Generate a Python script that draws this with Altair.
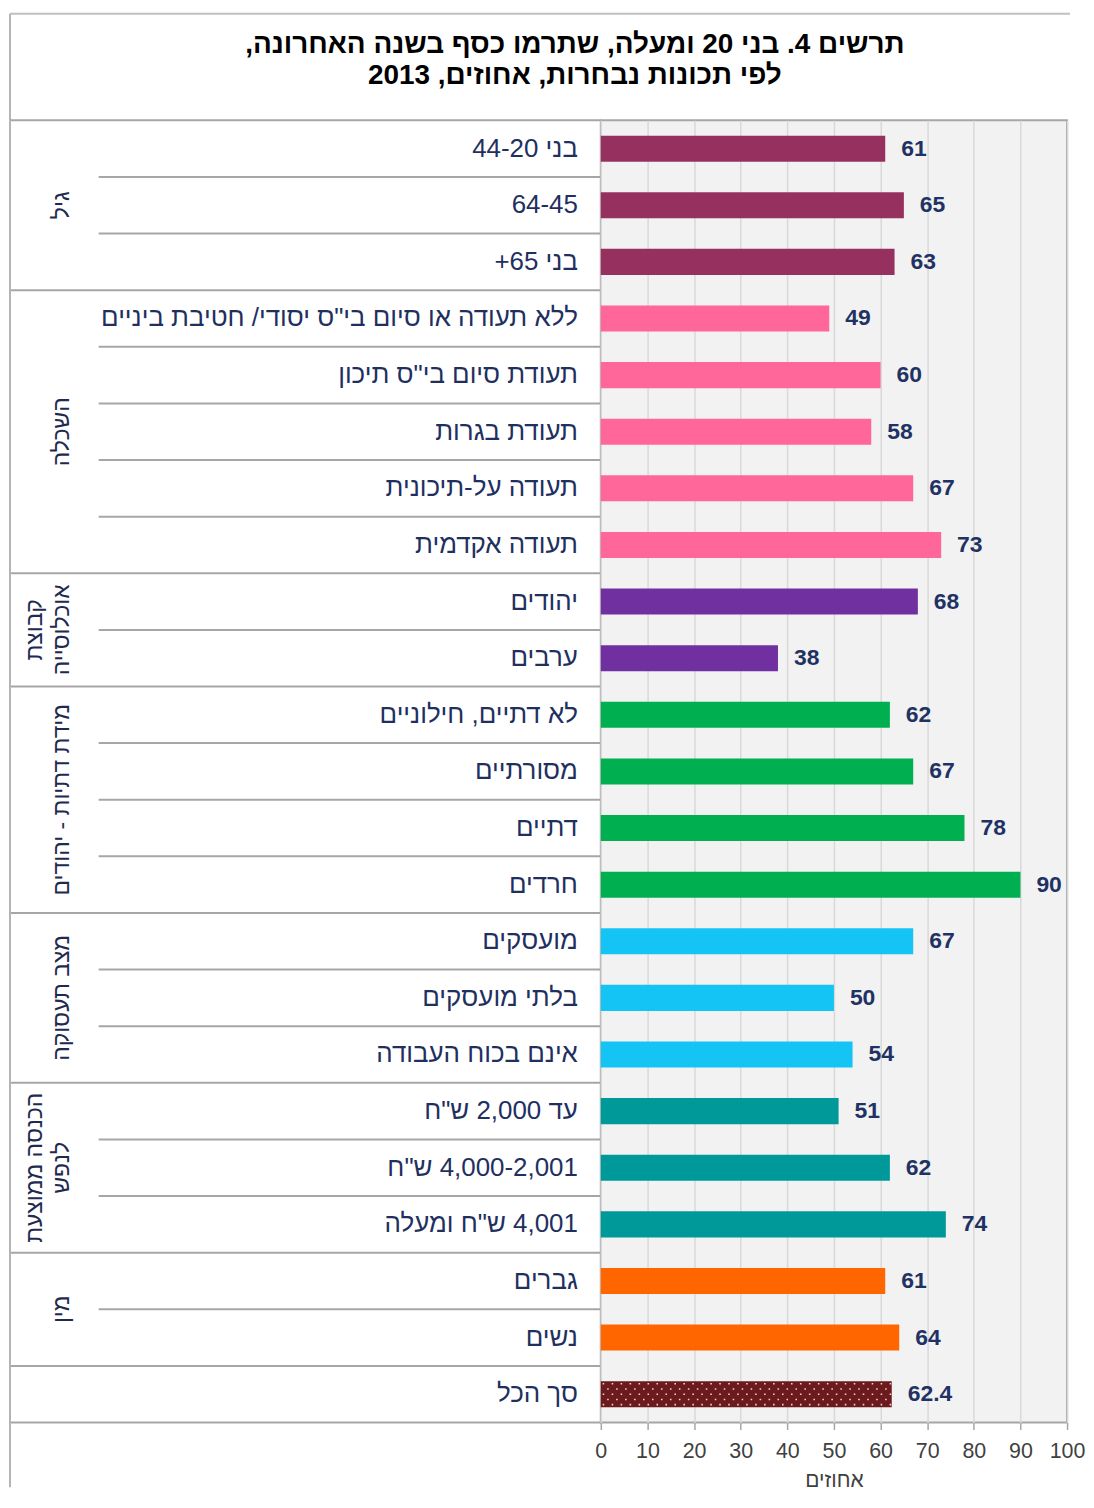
import altair as alt
import pandas as pd

RLE, PDF = "\u202b", "\u202c"


def rtl(s):
    return RLE + s + PDF


title_lines = [
    "תרשים 4. בני 20 ומעלה, שתרמו כסף בשנה האחרונה,",
    "לפי תכונות נבחרות, אחוזים, 2013",
]
axis_title = "אחוזים"

categories = [
    "בני 44-20", "64-45", "בני 65+",
    'ללא תעודה או סיום בי"ס יסודי/ חטיבת ביניים', 'תעודת סיום בי"ס תיכון',
    "תעודת בגרות", "תעודה על-תיכונית", "תעודה אקדמית",
    "יהודים", "ערבים",
    "לא דתיים, חילוניים", "מסורתיים", "דתיים", "חרדים",
    "מועסקים", "בלתי מועסקים", "אינם בכוח העבודה",
    'עד 2,000 ש"ח', '4,000-2,001 ש"ח', '4,001 ש"ח ומעלה',
    "גברים", "נשים",
    "סך הכל",
]
values = [61, 65, 63, 49, 60, 58, 67, 73, 68, 38, 62, 67, 78, 90, 67, 50, 54, 51, 62, 74, 61, 64, 62.4]

group_keys = ["age", "edu", "pop", "rel", "emp", "inc", "sex", "total"]
group_labels = [["גיל"], ["השכלה"], ["קבוצת", "אוכלוסייה"], ["מידת דתיות - יהודים"],
                ["מצב תעסוקה"], ["הכנסה ממוצעת", "לנפש"], ["מין"], []]
group_sizes = [3, 5, 2, 4, 3, 3, 2, 1]
group_colors = ["#96305f", "#ff6699", "#7030a0", "#00b050", "#14c4f5", "#009999", "#ff6600", "#6b1a1e"]

# ---- derived tables ----
row_groups = [g for g, s in zip(group_keys, group_sizes) for _ in range(s)]
n = len(categories)
cat_order = [rtl(c) for c in categories]
df = pd.DataFrame({"idx": list(range(n)), "cat": cat_order, "value": values, "group": row_groups})
df["ymid"] = df["idx"] + 0.5

LEFT_W, RIGHT_W, H = 593, 468, 1307
INNER_X = 89

rule_rows = []
for b in range(n + 1):
    full = b == 0 or b == n or row_groups[b] != row_groups[b - 1]
    rule_rows.append({"y": b, "x0": 0 if full else INNER_X})
rules_df = pd.DataFrame(rule_rows)

glab_rows = []
start = 0
for key, lab, size in zip(group_keys, group_labels, group_sizes):
    if lab:
        glab_rows.append({"y": start + size / 2, "text": [rtl(t) for t in lab], "nl": len(lab)})
    start += size
glab_df = pd.DataFrame(glab_rows)

LINE = "#a6a6a6"
NAVY = "#1f3060"
SANS = "Liberation Sans"

# ---- header ----
header_df = pd.DataFrame({"t": ["\n".join(rtl(t) for t in title_lines)]})
header_text = alt.Chart(header_df).mark_text(
    font=SANS, fontSize=28, fontWeight="bold", color="#000000",
    lineBreak="\n", lineHeight=32, align="center", baseline="middle",
).encode(x=alt.value(567), y=alt.value(31), text="t:N")
header_top = alt.Chart(header_df).mark_rule(color="#c0c0c0", strokeWidth=2).encode(
    x=alt.value(0), x2=alt.value(1064), y=alt.value(0))
header_left = alt.Chart(header_df).mark_rule(color="#b5b5b5", strokeWidth=2).encode(
    x=alt.value(0), y=alt.value(0), y2=alt.value(107))
header = alt.layer(header_top, header_left, header_text).properties(width=1064, height=107)

# ---- left label table ----
yq = alt.Scale(domain=[0, n], reverse=True, nice=False, zero=False)
sep = alt.Chart(rules_df).mark_rule(color=LINE, strokeWidth=2).encode(
    x=alt.X("x0:Q", scale=None), x2=alt.value(LEFT_W),
    y=alt.Y("y:Q", scale=yq, axis=None))
vline = alt.Chart(header_df).mark_rule(color="#b5b5b5", strokeWidth=2).encode(
    x=alt.value(0), y=alt.value(0), y2=alt.value(1372))
cat_text = alt.Chart(df).mark_text(
    align="right", baseline="middle", fontSize=26, color=NAVY, font=SANS,
).encode(x=alt.value(570), y=alt.Y("ymid:Q", scale=yq, axis=None), text="cat:N")
grp_text = alt.Chart(glab_df).transform_calculate(
    gx="52 - (datum.nl - 1) * 27"
).mark_text(
    align="center", baseline="middle", angle=270, fontSize=23, lineHeight=27,
    color="#1f2a50", font=SANS,
).encode(x=alt.X("gx:Q", scale=None), y=alt.Y("y:Q", scale=yq, axis=None), text="text:N")
left = alt.layer(sep, vline, cat_text, grp_text).properties(
    width=LEFT_W, height=H, view=alt.ViewBackground(stroke="transparent"))

# ---- right bar panel ----
yband = alt.Y("cat:N", sort=cat_order, scale=alt.Scale(paddingInner=0.54, paddingOuter=0.27), axis=None)
xs = alt.Scale(domain=[0, 100], nice=False)
base = alt.Chart(df)
bars = base.mark_bar().encode(
    x=alt.X("value:Q", scale=xs, axis=alt.Axis(
        values=list(range(0, 101, 10)), grid=True, gridColor="#d9d9d9", gridWidth=1.5,
        domain=False, ticks=True, tickSize=7, tickColor="#a6a6a6", tickWidth=1.5,
        labelFontSize=21.5, labelColor="#404040", labelPadding=11, labelFont=SANS,
        labelFlush=False, labelOverlap=False,
        title=rtl(axis_title), titleFontSize=21, titleFontWeight="normal", titleColor="#404040",
        titlePadding=8, titleFont=SANS)),
    y=yband,
    color=alt.Color("group:N", scale=alt.Scale(domain=group_keys, range=group_colors), legend=None),
)
dot_layers = []
for k, off in enumerate([-10.5, -5.25, 0, 5.25, 10.5]):
    dot_layers.append(
        base.transform_filter(alt.datum.group == "total").transform_calculate(
            start="0.4"
        ).mark_rule(
            color="#ffe0e0", opacity=0.9, strokeWidth=1.6, strokeDash=[1.6, 7.4],
            strokeDashOffset=4.5 * (k % 2), yOffset=off,
        ).encode(x=alt.X("start:Q", scale=xs), x2=alt.X2("value:Q"), y=yband)
    )
labels = base.mark_text(
    align="left", baseline="middle", dx=16, fontSize=23, fontWeight="bold",
    color="#1f3264", font=SANS,
).encode(x=alt.X("value:Q", scale=xs), y=yband, text=alt.Text("value:Q", format=".1~f"))
right = alt.layer(bars, *dot_layers, labels).properties(
    width=RIGHT_W, height=H,
    view=alt.ViewBackground(fill="#f2f2f2", stroke="#a6a6a6", strokeWidth=2))

chart = alt.vconcat(
    header,
    alt.hconcat(left, right, spacing=0, bounds="flush"),
    spacing=0, bounds="flush",
).properties(
    padding={"left": 0, "top": 1, "right": 0, "bottom": 0},
).configure(font=SANS).configure_view(stroke="transparent")

chart.save("out.html", embed_options={"renderer": "svg", "actions": False})
